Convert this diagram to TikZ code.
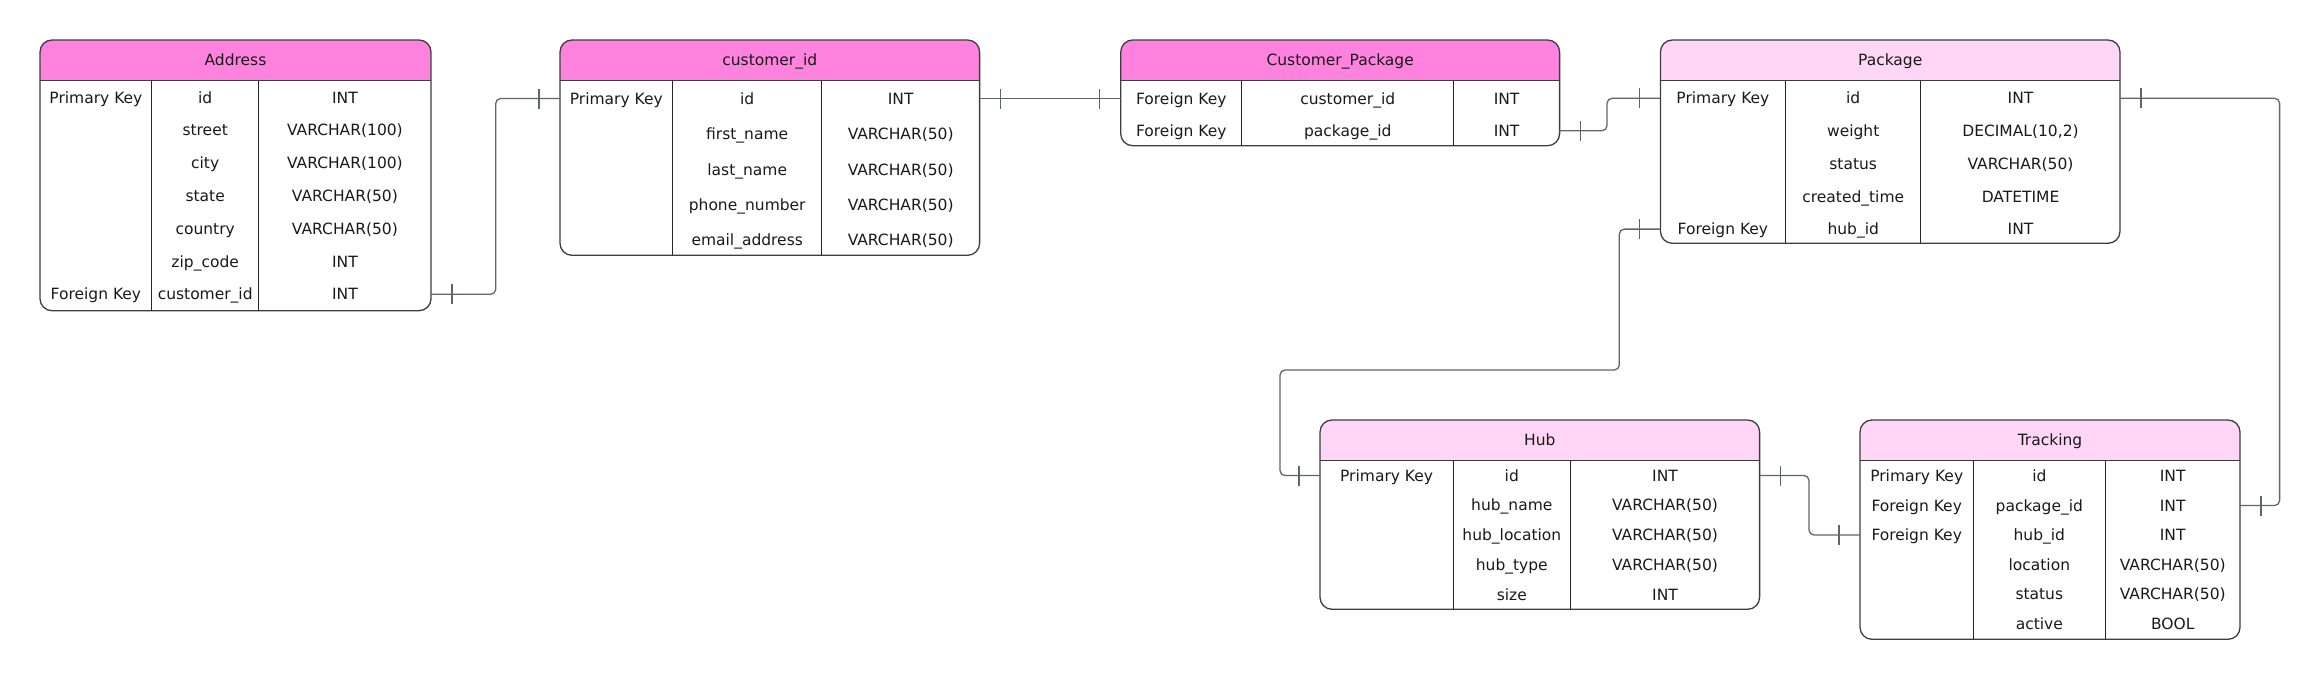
\documentclass[tikz,border=0pt]{standalone}
\usepackage{fontspec}
\setmainfont{DejaVu Sans}
\usetikzlibrary{decorations.markings}

\definecolor{hotpink}{HTML}{FF82DE}
\definecolor{palepink}{HTML}{FFD6F5}
\definecolor{framegray}{HTML}{3D3D3D}
\definecolor{linkgray}{HTML}{62646C}

\begin{document}
\begin{tikzpicture}[%
  x=1pt, y=-1pt, % pixel grid, y grows downwards
  tbl/.style={inner sep=0pt, outer sep=0pt, anchor=north west}, % area of one table
  tblframe/.style={draw=framegray, line width=1.3pt, rounded corners=12pt},
  colline/.style={draw=black!85, line width=1.3pt},
  cell/.style={inner sep=0pt, text height=11.3pt, text depth=0pt, text=black!90, font=\fontsize{15.5}{18}\selectfont},
  tick/.style={draw=linkgray, line width=1.3pt},
  relation/.style={draw=linkgray, line width=1.3pt, rounded corners=5pt, postaction={decorate},
    decoration={markings,
      mark=at position 21pt with {\draw[tick] (0,-10pt) -- (0,10pt);},
      mark=at position -21pt with {\draw[tick] (0,-10pt) -- (0,10pt);}}}
]
\useasboundingbox (0,0) rectangle (2320,680);

% Address
\node[tbl, minimum width=391pt, minimum height=270.7pt] (address) at (40,40) {};
\begin{scope}
  \clip[rounded corners=12pt] (address.north west) rectangle (address.south east);
  \fill[hotpink] (address.north west) rectangle ([yshift=-40.5pt]address.north east);
\end{scope}
\draw[tblframe] (address.north west) rectangle (address.south east);
\draw[tblframe] ([yshift=-40.5pt]address.north west) -- ([yshift=-40.5pt]address.north east);
\draw[colline] (151.7,80.5) -- (151.7,310.7);
\draw[colline] (258.7,80.5) -- (258.7,310.7);
\node[cell] (address-title) at (235.5,60.3) {Address};
\node[cell] (addr-id-key) at (95.9,97.5) {Primary Key};
\node[cell] (addr-id) at (205.2,97.5) {id};
\node[cell] (addr-id-type) at (344.9,97.5) {INT};
\node[cell] (addr-street) at (205.2,130.3) {street};
\node[cell] (addr-street-type) at (344.9,130.3) {VARCHAR(100)};
\node[cell] (addr-city) at (205.2,163.1) {city};
\node[cell] (addr-city-type) at (344.9,163.1) {VARCHAR(100)};
\node[cell] (addr-state) at (205.2,195.9) {state};
\node[cell] (addr-state-type) at (344.9,195.9) {VARCHAR(50)};
\node[cell] (addr-country) at (205.2,228.7) {country};
\node[cell] (addr-country-type) at (344.9,228.7) {VARCHAR(50)};
\node[cell] (addr-zip) at (205.2,261.5) {zip\_code};
\node[cell] (addr-zip-type) at (344.9,261.5) {INT};
\node[cell] (addr-cid-key) at (95.9,294.3) {Foreign Key};
\node[cell] (addr-cid) at (205.2,294.3) {customer\_id};
\node[cell] (addr-cid-type) at (344.9,294.3) {INT};

% customer_id
\node[tbl, minimum width=419.6pt, minimum height=215.3pt] (customer) at (560,40) {};
\begin{scope}
  \clip[rounded corners=12pt] (customer.north west) rectangle (customer.south east);
  \fill[hotpink] (customer.north west) rectangle ([yshift=-40.5pt]customer.north east);
\end{scope}
\draw[tblframe] (customer.north west) rectangle (customer.south east);
\draw[tblframe] ([yshift=-40.5pt]customer.north west) -- ([yshift=-40.5pt]customer.north east);
\draw[colline] (672.5,80.5) -- (672.5,255.3);
\draw[colline] (821.8,80.5) -- (821.8,255.3);
\node[cell] (customer-title) at (769.8,60.3) {customer\_id};
\node[cell] (cust-id-key) at (616.3,98.5) {Primary Key};
\node[cell] (cust-id) at (747.2,98.5) {id};
\node[cell] (cust-id-type) at (900.7,98.5) {INT};
\node[cell] (cust-first) at (747.2,134.2) {first\_name};
\node[cell] (cust-first-type) at (900.7,134.2) {VARCHAR(50)};
\node[cell] (cust-last) at (747.2,169.5) {last\_name};
\node[cell] (cust-last-type) at (900.7,169.5) {VARCHAR(50)};
\node[cell] (cust-phone) at (747.2,204.7) {phone\_number};
\node[cell] (cust-phone-type) at (900.7,204.7) {VARCHAR(50)};
\node[cell] (cust-email) at (747.2,240) {email\_address};
\node[cell] (cust-email-type) at (900.7,240) {VARCHAR(50)};

% Customer_Package
\node[tbl, minimum width=438.9pt, minimum height=105.7pt] (cpack) at (1120.7,40) {};
\begin{scope}
  \clip[rounded corners=12pt] (cpack.north west) rectangle (cpack.south east);
  \fill[hotpink] (cpack.north west) rectangle ([yshift=-40.5pt]cpack.north east);
\end{scope}
\draw[tblframe] (cpack.north west) rectangle (cpack.south east);
\draw[tblframe] ([yshift=-40.5pt]cpack.north west) -- ([yshift=-40.5pt]cpack.north east);
\draw[colline] (1241.8,80.5) -- (1241.8,145.7);
\draw[colline] (1453.6,80.5) -- (1453.6,145.7);
\node[cell] (cpack-title) at (1340.2,60.3) {Customer\_Package};
\node[cell] (cp-cid-key) at (1181.3,98.5) {Foreign Key};
\node[cell] (cp-cid) at (1347.7,98.5) {customer\_id};
\node[cell] (cp-cid-type) at (1506.6,98.5) {INT};
\node[cell] (cp-pid-key) at (1181.3,130.7) {Foreign Key};
\node[cell] (cp-pid) at (1347.7,130.7) {package\_id};
\node[cell] (cp-pid-type) at (1506.6,130.7) {INT};

% Package
\node[tbl, minimum width=459.6pt, minimum height=203.3pt] (package) at (1660.4,40) {};
\begin{scope}
  \clip[rounded corners=12pt] (package.north west) rectangle (package.south east);
  \fill[palepink] (package.north west) rectangle ([yshift=-40.5pt]package.north east);
\end{scope}
\draw[tblframe] (package.north west) rectangle (package.south east);
\draw[tblframe] ([yshift=-40.5pt]package.north west) -- ([yshift=-40.5pt]package.north east);
\draw[colline] (1785.3,80.5) -- (1785.3,243.3);
\draw[colline] (1920.6,80.5) -- (1920.6,243.3);
\node[cell] (package-title) at (1890.2,60.3) {Package};
\node[cell] (pkg-id-key) at (1722.9,98.3) {Primary Key};
\node[cell] (pkg-id) at (1853.2,98.3) {id};
\node[cell] (pkg-id-type) at (2020.5,98.3) {INT};
\node[cell] (pkg-weight) at (1853.2,131) {weight};
\node[cell] (pkg-weight-type) at (2020.5,131) {DECIMAL(10,2)};
\node[cell] (pkg-status) at (1853.2,163.7) {status};
\node[cell] (pkg-status-type) at (2020.5,163.7) {VARCHAR(50)};
\node[cell] (pkg-created) at (1853.2,196.4) {created\_time};
\node[cell] (pkg-created-type) at (2020.5,196.4) {DATETIME};
\node[cell] (pkg-hub-key) at (1722.9,229.1) {Foreign Key};
\node[cell] (pkg-hub) at (1853.2,229.1) {hub\_id};
\node[cell] (pkg-hub-type) at (2020.5,229.1) {INT};

% Hub
\node[tbl, minimum width=439.6pt, minimum height=189.3pt] (hub) at (1320,420) {};
\begin{scope}
  \clip[rounded corners=12pt] (hub.north west) rectangle (hub.south east);
  \fill[palepink] (hub.north west) rectangle ([yshift=-40.5pt]hub.north east);
\end{scope}
\draw[tblframe] (hub.north west) rectangle (hub.south east);
\draw[tblframe] ([yshift=-40.5pt]hub.north west) -- ([yshift=-40.5pt]hub.north east);
\draw[colline] (1453.2,460.5) -- (1453.2,609.3);
\draw[colline] (1570.4,460.5) -- (1570.4,609.3);
\node[cell] (hub-title) at (1539.8,440.3) {Hub};
\node[cell] (hub-id-key) at (1386.6,475.5) {Primary Key};
\node[cell] (hub-id) at (1511.8,475.5) {id};
\node[cell] (hub-id-type) at (1665,475.5) {INT};
\node[cell] (hub-name) at (1511.8,505.3) {hub\_name};
\node[cell] (hub-name-type) at (1665,505.3) {VARCHAR(50)};
\node[cell] (hub-loc) at (1511.8,535.1) {hub\_location};
\node[cell] (hub-loc-type) at (1665,535.1) {VARCHAR(50)};
\node[cell] (hub-type) at (1511.8,564.9) {hub\_type};
\node[cell] (hub-type-type) at (1665,564.9) {VARCHAR(50)};
\node[cell] (hub-size) at (1511.8,594.7) {size};
\node[cell] (hub-size-type) at (1665,594.7) {INT};

% Tracking
\node[tbl, minimum width=380pt, minimum height=219.3pt] (tracking) at (1860,420) {};
\begin{scope}
  \clip[rounded corners=12pt] (tracking.north west) rectangle (tracking.south east);
  \fill[palepink] (tracking.north west) rectangle ([yshift=-40.5pt]tracking.north east);
\end{scope}
\draw[tblframe] (tracking.north west) rectangle (tracking.south east);
\draw[tblframe] ([yshift=-40.5pt]tracking.north west) -- ([yshift=-40.5pt]tracking.north east);
\draw[colline] (1973.3,460.5) -- (1973.3,639.3);
\draw[colline] (2105.3,460.5) -- (2105.3,639.3);
\node[cell] (tracking-title) at (2050,440.3) {Tracking};
\node[cell] (trk-id-key) at (1916.7,476) {Primary Key};
\node[cell] (trk-id) at (2039.3,476) {id};
\node[cell] (trk-id-type) at (2172.7,476) {INT};
\node[cell] (trk-pkg-key) at (1916.7,505.5) {Foreign Key};
\node[cell] (trk-pkg) at (2039.3,505.5) {package\_id};
\node[cell] (trk-pkg-type) at (2172.7,505.5) {INT};
\node[cell] (trk-hub-key) at (1916.7,535) {Foreign Key};
\node[cell] (trk-hub) at (2039.3,535) {hub\_id};
\node[cell] (trk-hub-type) at (2172.7,535) {INT};
\node[cell] (trk-loc) at (2039.3,564.5) {location};
\node[cell] (trk-loc-type) at (2172.7,564.5) {VARCHAR(50)};
\node[cell] (trk-status) at (2039.3,594) {status};
\node[cell] (trk-status-type) at (2172.7,594) {VARCHAR(50)};
\node[cell] (trk-active) at (2039.3,623.5) {active};
\node[cell] (trk-active-type) at (2172.7,623.5) {BOOL};

% Relations (one-to-one ticks at both ends)
\coordinate (hubbend) at (1280,370);
\draw[relation] (address.east |- addr-cid) -- ++(64.7,0) |- (customer.west |- cust-id);
\draw[relation] (customer.east |- cust-id) -- (cpack.west |- cp-cid);
\draw[relation] (cpack.east |- cp-pid) -- ++(47.4,0) |- (package.west |- pkg-id);
\draw[relation] (package.west |- pkg-hub) -- ++(-41.1,0) |- (hubbend) |- (hub.west |- hub-id);
\draw[relation] (hub.east |- hub-id) -- ++(49.4,0) |- (tracking.west |- trk-hub);
\draw[relation] (package.east |- pkg-id) -- ++(159.6,0) |- (tracking.east |- trk-pkg);

\end{tikzpicture}
\end{document}
